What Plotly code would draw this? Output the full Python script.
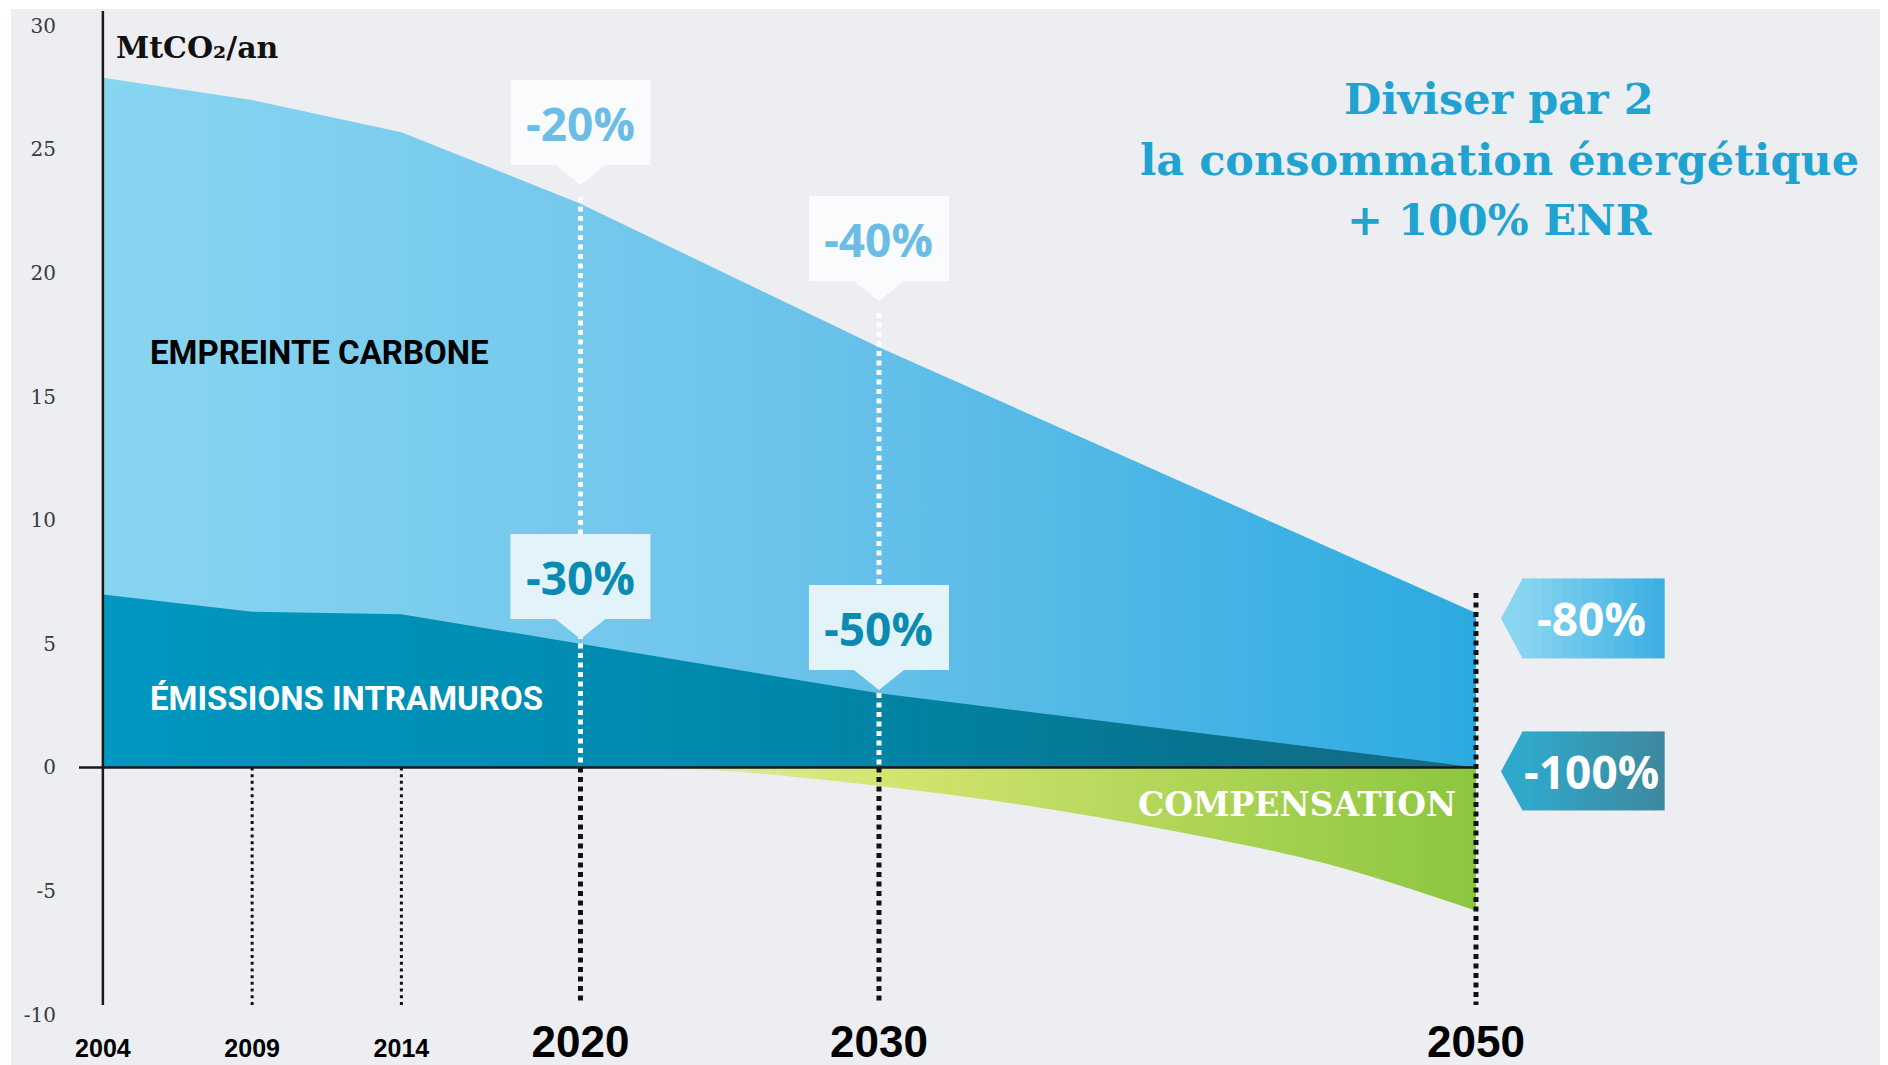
import plotly.graph_objects as go

# ---------------- data ----------------
years = [2004, 2009, 2014, 2020, 2030, 2050]
empreinte_carbone = [27.9, 27.0, 25.7, 22.8, 17.0, 6.25]
emissions_intramuros = [7.0, 6.3, 6.2, 5.0, 3.0, 0.0]
comp_years = [2022, 2025, 2030, 2035, 2040, 2045, 2050]
compensation = [0.0, -0.15, -0.75, -1.55, -2.6, -3.9, -5.8]
y_ticks = [-10, -5, 0, 5, 10, 15, 20, 25, 30]
x_tick_labels = ["2004", "2009", "2014", "2020", "2030", "2050"]
x_tick_big = [False, False, False, True, True, True]
callouts = [  # (year, text, style)
    (2020, "-20%", "light"),
    (2030, "-40%", "light"),
    (2020, "-30%", "dark"),
    (2030, "-50%", "dark"),
]
tags = ["-80%", "-100%"]

# ---------------- geometry (screen pixels; page body has an 8px margin) ----------------
OFF = 8
W, H = 1888 - OFF, 1065 - OFF
ML, MT = 79 - OFF, 11 - OFF
MR = 0
PW = W - ML - MR
PH = 1006
MB = H - MT - PH
PX_PER_YEAR = 29.85
PX_PER_UNIT = 24.72
X0 = 2003.2
X1 = X0 + PW / PX_PER_YEAR
Y1 = 30.6
Y0 = Y1 - PH / PX_PER_UNIT


def py2y(py):  # screen y -> data y
    return Y1 - (py - OFF - MT) / PX_PER_UNIT


def px2paper(px):  # screen x -> paper x
    return (px - OFF - ML) / PW


def py2paper(py):  # screen y -> paper y
    return (MT + PH - (py - OFF)) / PH


def lerp_color(c1, c2, t):
    a = [int(c1[i:i + 2], 16) for i in (1, 3, 5)]
    b = [int(c2[i:i + 2], 16) for i in (1, 3, 5)]
    return "#%02x%02x%02x" % tuple(round(a[k] + (b[k] - a[k]) * t) for k in range(3))


LABEL_FONT = "Roboto, Liberation Sans, Arial, sans-serif"
SLAB_FONT = "DejaVu Serif, serif"
PCT_FONT = "Open Sans, Noto Sans, sans-serif"

fig = go.Figure()

fig.add_trace(go.Scatter(
    x=years, y=empreinte_carbone, mode="lines", line=dict(width=0),
    fill="tozeroy",
    fillgradient=dict(type="horizontal",
                      colorscale=[[0, "#88d5f1"], [0.5, "#6cc3ea"], [1, "#2caae0"]]),
    hoverinfo="skip", showlegend=False))

fig.add_trace(go.Scatter(
    x=years, y=emissions_intramuros, mode="lines", line=dict(width=0),
    fill="tozeroy",
    fillgradient=dict(type="horizontal",
                      colorscale=[[0, "#0097c0"], [0.5, "#0088ab"], [0.8, "#07748f"], [1, "#1b6883"]]),
    hoverinfo="skip", showlegend=False))

fig.add_trace(go.Scatter(
    x=comp_years, y=compensation, mode="lines", line=dict(width=0, shape="spline"),
    fill="tozeroy",
    fillgradient=dict(type="horizontal",
                      colorscale=[[0, "#e4ecae"], [0.3, "#d3e46f"], [1, "#8cc63f"]]),
    hoverinfo="skip", showlegend=False))

shapes = []
# grey background panel (thin white border left/top)
shapes.append(dict(type="rect", xref="paper", yref="paper", layer="below",
                   x0=px2paper(11), x1=px2paper(1900), y0=py2paper(1080), y1=py2paper(9),
                   fillcolor="#eceef2", line=dict(width=0)))

bottom_y = py2y(1005)
# vertical dotted guide lines
for yr in (2009, 2014):
    shapes.append(dict(type="line", xref="x", yref="y", x0=yr, x1=yr, y0=0, y1=bottom_y,
                       line=dict(color="#111111", width=3, dash="3px,3.7px"), layer="above"))
for yr, top_py in ((2020, 197), (2030, 313)):
    shapes.append(dict(type="line", xref="x", yref="y", x0=yr, x1=yr, y0=py2y(top_py), y1=0,
                       line=dict(color="#ffffff", width=5, dash="5px,4.5px"), layer="above"))
    shapes.append(dict(type="line", xref="x", yref="y", x0=yr, x1=yr, y0=0, y1=bottom_y,
                       line=dict(color="#111111", width=5, dash="5px,4.5px"), layer="above"))
shapes.append(dict(type="line", xref="x", yref="y", x0=2050, x1=2050, y0=py2y(593), y1=bottom_y,
                   line=dict(color="#111111", width=5, dash="5px,4.5px"), layer="above"))

# axis lines
shapes.append(dict(type="line", xref="x", yref="y", x0=years[0], x1=years[0], y0=bottom_y, y1=Y1,
                   line=dict(color="#1a1a1a", width=2.5), layer="above"))
shapes.append(dict(type="line", xref="x", yref="y", x0=X0, x1=years[-1], y0=0, y1=0,
                   line=dict(color="#1a1a1a", width=2.5), layer="above"))

annotations = []

# callout boxes with pointer
tip_py = {"-20%": 185, "-40%": 301, "-30%": 639, "-50%": 690}
box_path = "M0,0 L-25,20 L-70,20 L-70,105 L70,105 L70,20 L25,20 Z"
for yr, txt, style in callouts:
    ty = py2y(tip_py[txt])
    fill = "#f9fbfd" if style == "light" else "#e2f3fa"
    tcol = "#6cbde6" if style == "light" else "#0b8bb2"
    shapes.append(dict(type="path", xref="x", yref="y", xsizemode="pixel", ysizemode="pixel",
                       xanchor=yr, yanchor=ty, path=box_path, fillcolor=fill,
                       line=dict(width=0), layer="above"))
    annotations.append(dict(x=yr, y=ty, xref="x", yref="y", yshift=62, showarrow=False,
                            text=txt, xanchor="center", yanchor="middle",
                            font=dict(family=PCT_FONT, size=46, color=tcol, weight=700)))

# right-hand tags with simulated gradient
tag_specs = [
    (tags[0], empreinte_carbone[-1], 34.5, -45.5, -5.5, "#8ad5f1", "#3aaee2"),
    (tags[1], emissions_intramuros[-1], 36, -43, -4, "#2ea9cc", "#3f889e"),
]
for txt, anchor_val, top, bot, tip, c1, c2 in tag_specs:
    xs_tip, xs_sh, xs_r = 25, 46, 188
    shapes.append(dict(type="path", xref="x", yref="y", xsizemode="pixel", ysizemode="pixel",
                       xanchor=years[-1], yanchor=anchor_val,
                       path=f"M{xs_tip},{tip} L{xs_sh + 0.6},{top} L{xs_sh + 0.6},{bot} Z",
                       fillcolor=c1, line=dict(width=0), layer="above"))
    n = 14
    for i in range(n):
        a = xs_sh + (xs_r - xs_sh) * i / n
        b = xs_sh + (xs_r - xs_sh) * (i + 1) / n
        col = lerp_color(c1, c2, (i + 0.5) / n)
        shapes.append(dict(type="path", xref="x", yref="y", xsizemode="pixel", ysizemode="pixel",
                           xanchor=years[-1], yanchor=anchor_val,
                           path=f"M{a},{top} L{b + 0.7},{top} L{b + 0.7},{bot} L{a},{bot} Z",
                           fillcolor=col, line=dict(width=0), layer="above"))
    annotations.append(dict(x=years[-1], y=anchor_val, xref="x", yref="y",
                            xshift=(xs_sh + xs_r) / 2 - 1, yshift=(top + bot) / 2,
                            showarrow=False, text=txt, xanchor="center", yanchor="middle",
                            font=dict(family=PCT_FONT, size=46, color="#ffffff", weight=700)))

# text labels
annotations.append(dict(x=px2paper(114), y=py2paper(48), xref="paper", yref="paper",
                        text="MtCO₂/an", showarrow=False, xanchor="left", yanchor="middle",
                        font=dict(family=SLAB_FONT, size=30, color="#111111", weight="bold")))
annotations.append(dict(x=px2paper(148), y=py2paper(352), xref="paper", yref="paper",
                        text="EMPREINTE CARBONE", showarrow=False, xanchor="left", yanchor="middle",
                        font=dict(family=LABEL_FONT, size=33, color="#000000", weight="bold")))
annotations.append(dict(x=px2paper(148), y=py2paper(698), xref="paper", yref="paper",
                        text="ÉMISSIONS INTRAMUROS", showarrow=False, xanchor="left", yanchor="middle",
                        font=dict(family=LABEL_FONT, size=33, color="#ffffff", weight="bold")))
annotations.append(dict(x=px2paper(1458), y=py2paper(804), xref="paper", yref="paper",
                        text="COMPENSATION", showarrow=False, xanchor="right", yanchor="middle",
                        font=dict(family=SLAB_FONT, size=33, color="#ffffff", weight="bold")))
for line, py in (("Diviser par 2", 99), ("la consommation énergétique", 160), ("+ 100% ENR", 220)):
    annotations.append(dict(x=px2paper(1499), y=py2paper(py), xref="paper", yref="paper",
                            text=line, showarrow=False, xanchor="center", yanchor="middle",
                            font=dict(family=SLAB_FONT, size=43, color="#21a3d1", weight="bold")))

ticktext = [f"<span style='font-size:44px'>{t}</span>" if big else t
            for t, big in zip(x_tick_labels, x_tick_big)]

fig.update_layout(
    width=W, height=H,
    margin=dict(l=ML, r=MR, t=MT, b=MB, pad=0),
    paper_bgcolor="#ffffff", plot_bgcolor="rgba(0,0,0,0)",
    showlegend=False,
    shapes=shapes, annotations=annotations,
    xaxis=dict(range=[X0, X1], showgrid=False, zeroline=False, showline=False,
               tickvals=years, ticktext=ticktext, ticks="",
               tickfont=dict(family="Liberation Sans, Arial, sans-serif", size=25,
                             color="#000000", weight="bold"),
               ticklabelstandoff=14, fixedrange=True),
    yaxis=dict(range=[Y0, Y1], showgrid=False, zeroline=False, showline=False,
               tickvals=y_ticks, ticktext=[str(v) for v in y_ticks], ticks="",
               tickfont=dict(family=SLAB_FONT, size=20, color="#3a3a3a"),
               ticklabelstandoff=22, fixedrange=True),
)

fig.write_html("out.html")
